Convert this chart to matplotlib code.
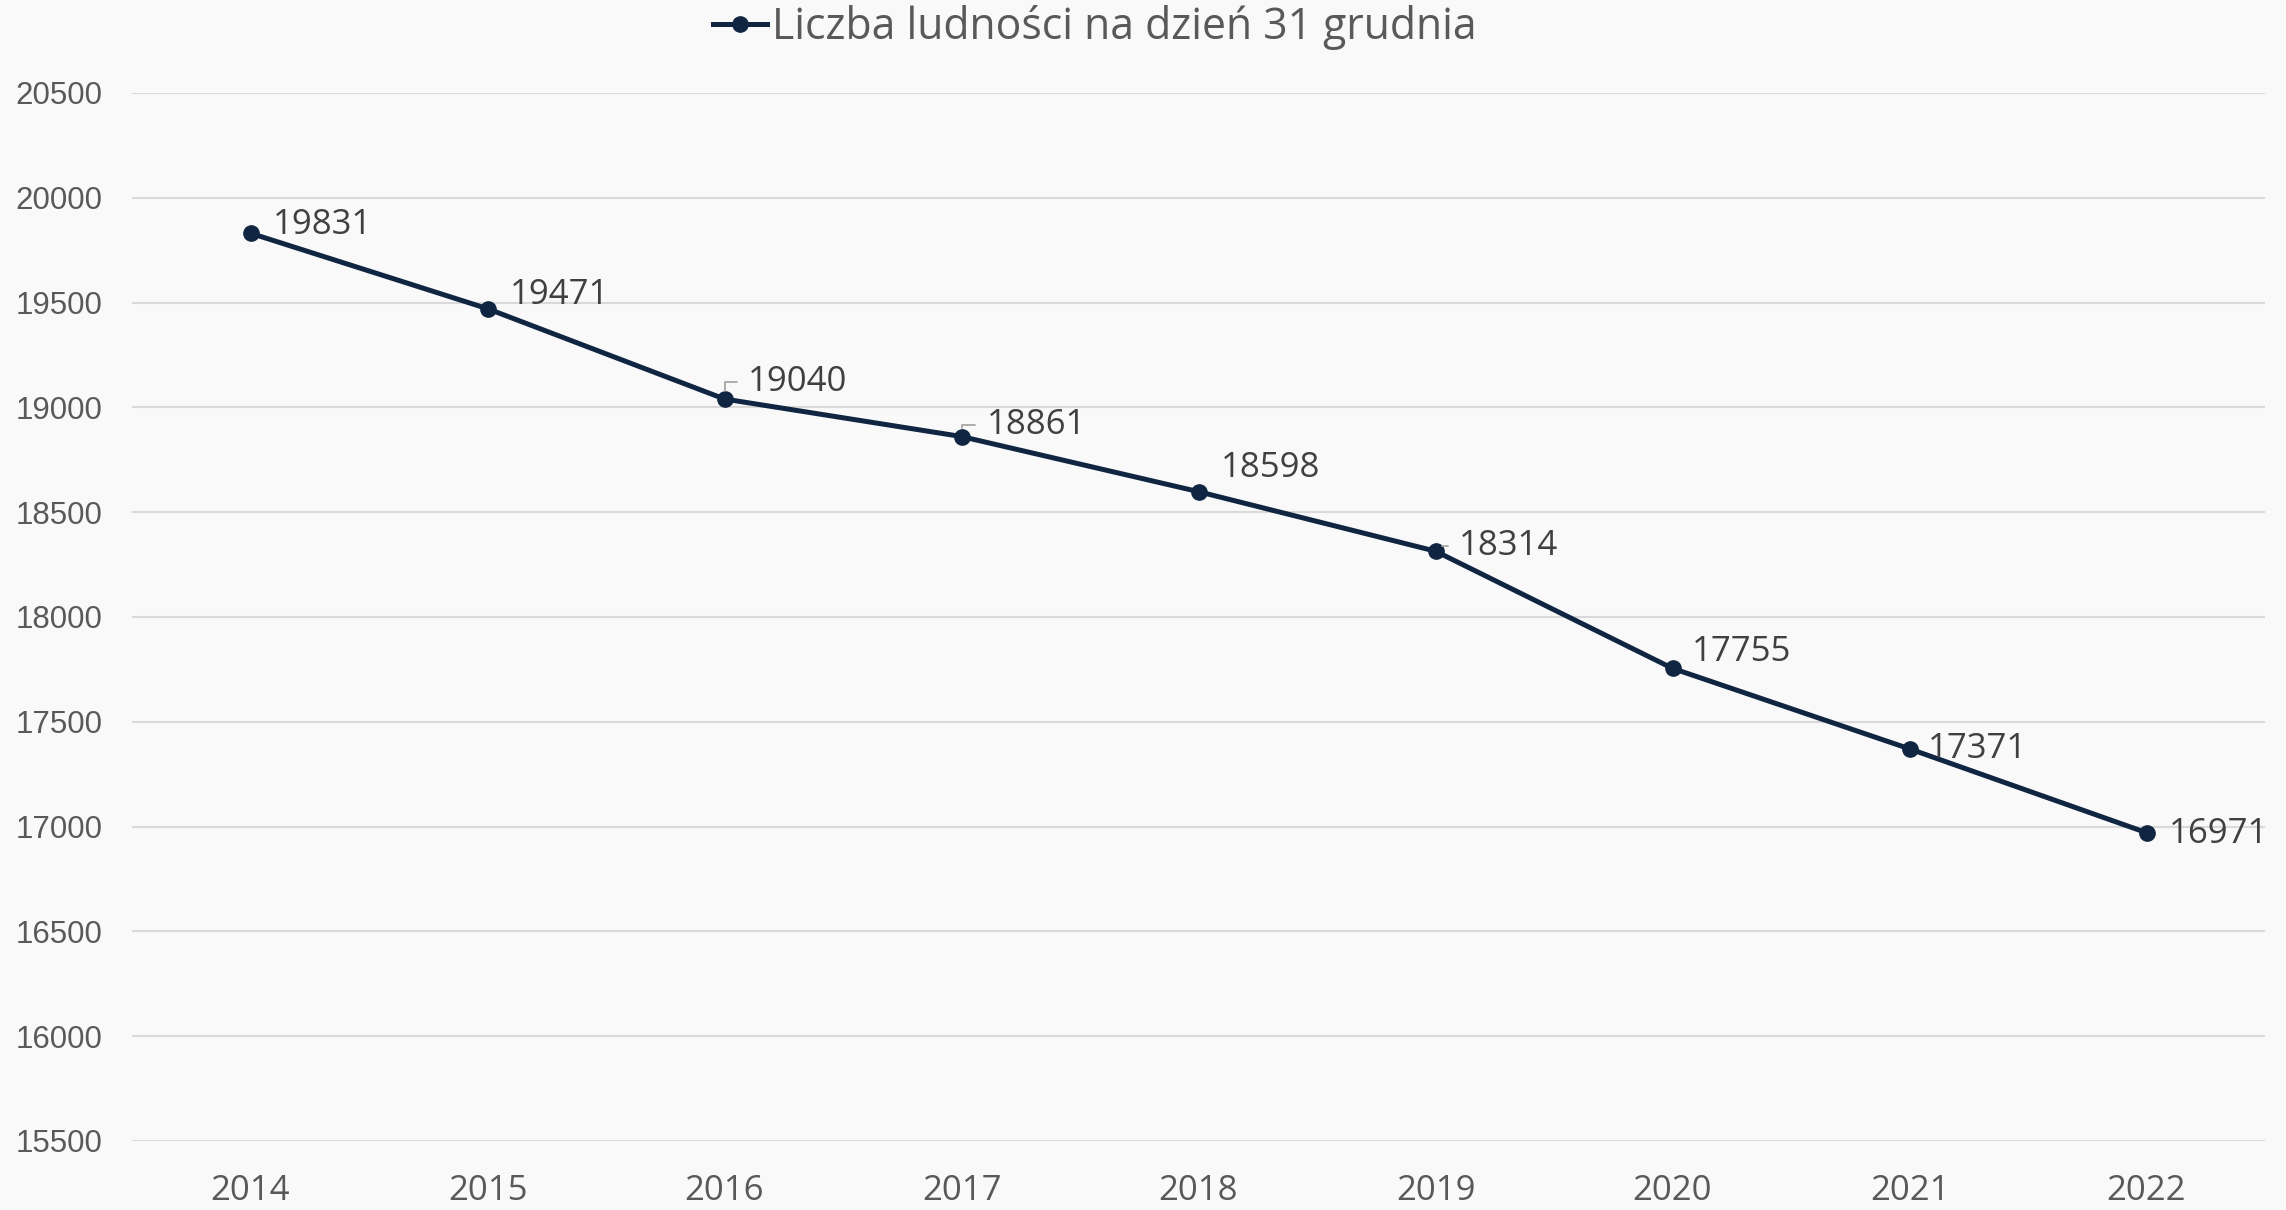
import matplotlib.pyplot as plt
from matplotlib.ticker import MultipleLocator

# ─── DATA ────────────────────────────────────────────────────────────────────
lata = ["2014", "2015", "2016", "2017", "2018", "2019", "2020", "2021", "2022"]
ludnosc = [19831, 19471, 19040, 18861, 18598, 18314, 17755, 17371, 16971]
etykieta = "Liczba ludności na dzień 31 grudnia"

# przesunięcia etykiet danych (punkty) i które mają linię odniesienia
offsety = [(16, 6), (16, 10), (17, 12), (18, 8), (16, 17), (17, 4), (14, 12), (13, 0), (16, -1)]
z_linia = [False, False, True, True, False, True, False, False, False]

KOLOR = "#0f2541"
TLO = "#f9f9f9"

fig = plt.figure(figsize=(22.86, 12.10), dpi=100, facecolor=TLO)
ax = fig.add_axes((132 / 2286, 69 / 1210, (2265 - 132) / 2286, (1141 - 93) / 1210))
ax.set_facecolor(TLO)

x = list(range(len(lata)))
linia, = ax.plot(x, ludnosc, color=KOLOR, linewidth=3.6, marker="o",
                 markersize=11, zorder=3, label=etykieta)

for xi, yi, (dx, dy), lin in zip(x, ludnosc, offsety, z_linia):
    kw = {}
    if lin:
        kw["arrowprops"] = dict(arrowstyle="-", color="#a6a6a6", linewidth=1.3,
                                connectionstyle="angle,angleA=0,angleB=90,rad=0",
                                relpos=(0, 0.5), shrinkA=6, shrinkB=6)
    ax.annotate(f"{yi}", xy=(xi, yi), xytext=(dx, dy), textcoords="offset points",
                ha="left", va="center", fontsize=25, family="Open Sans",
                color="#404040", zorder=4, **kw)

ax.set_xlim(-0.5, len(lata) - 0.5)
ax.set_ylim(15500, 20500)
ax.set_xticks(x)
ax.set_xticklabels(lata)
ax.yaxis.set_major_locator(MultipleLocator(500))
ax.grid(axis="y", color="#d9d9d9", linewidth=1.5, zorder=0)
ax.set_axisbelow(True)
for s in ax.spines.values():
    s.set_visible(False)
ax.tick_params(axis="both", length=0)
ax.tick_params(axis="y", pad=21, labelsize=22.5, labelcolor="#595959")
ax.tick_params(axis="x", pad=24, labelsize=25, labelcolor="#595959")
for t in ax.get_yticklabels():
    t.set_family("Liberation Sans")
for t in ax.get_xticklabels():
    t.set_family("Open Sans")

leg = fig.legend(handles=[linia], loc="center", bbox_to_anchor=(1095 / 2286, 1 - 27 / 1210),
                 frameon=False, handlelength=1.25, handletextpad=0.12,
                 prop={"family": "Open Sans", "size": 30.8})
for t in leg.get_texts():
    t.set_color("#595959")

fig.savefig("out.png", dpi=100, facecolor=TLO)
